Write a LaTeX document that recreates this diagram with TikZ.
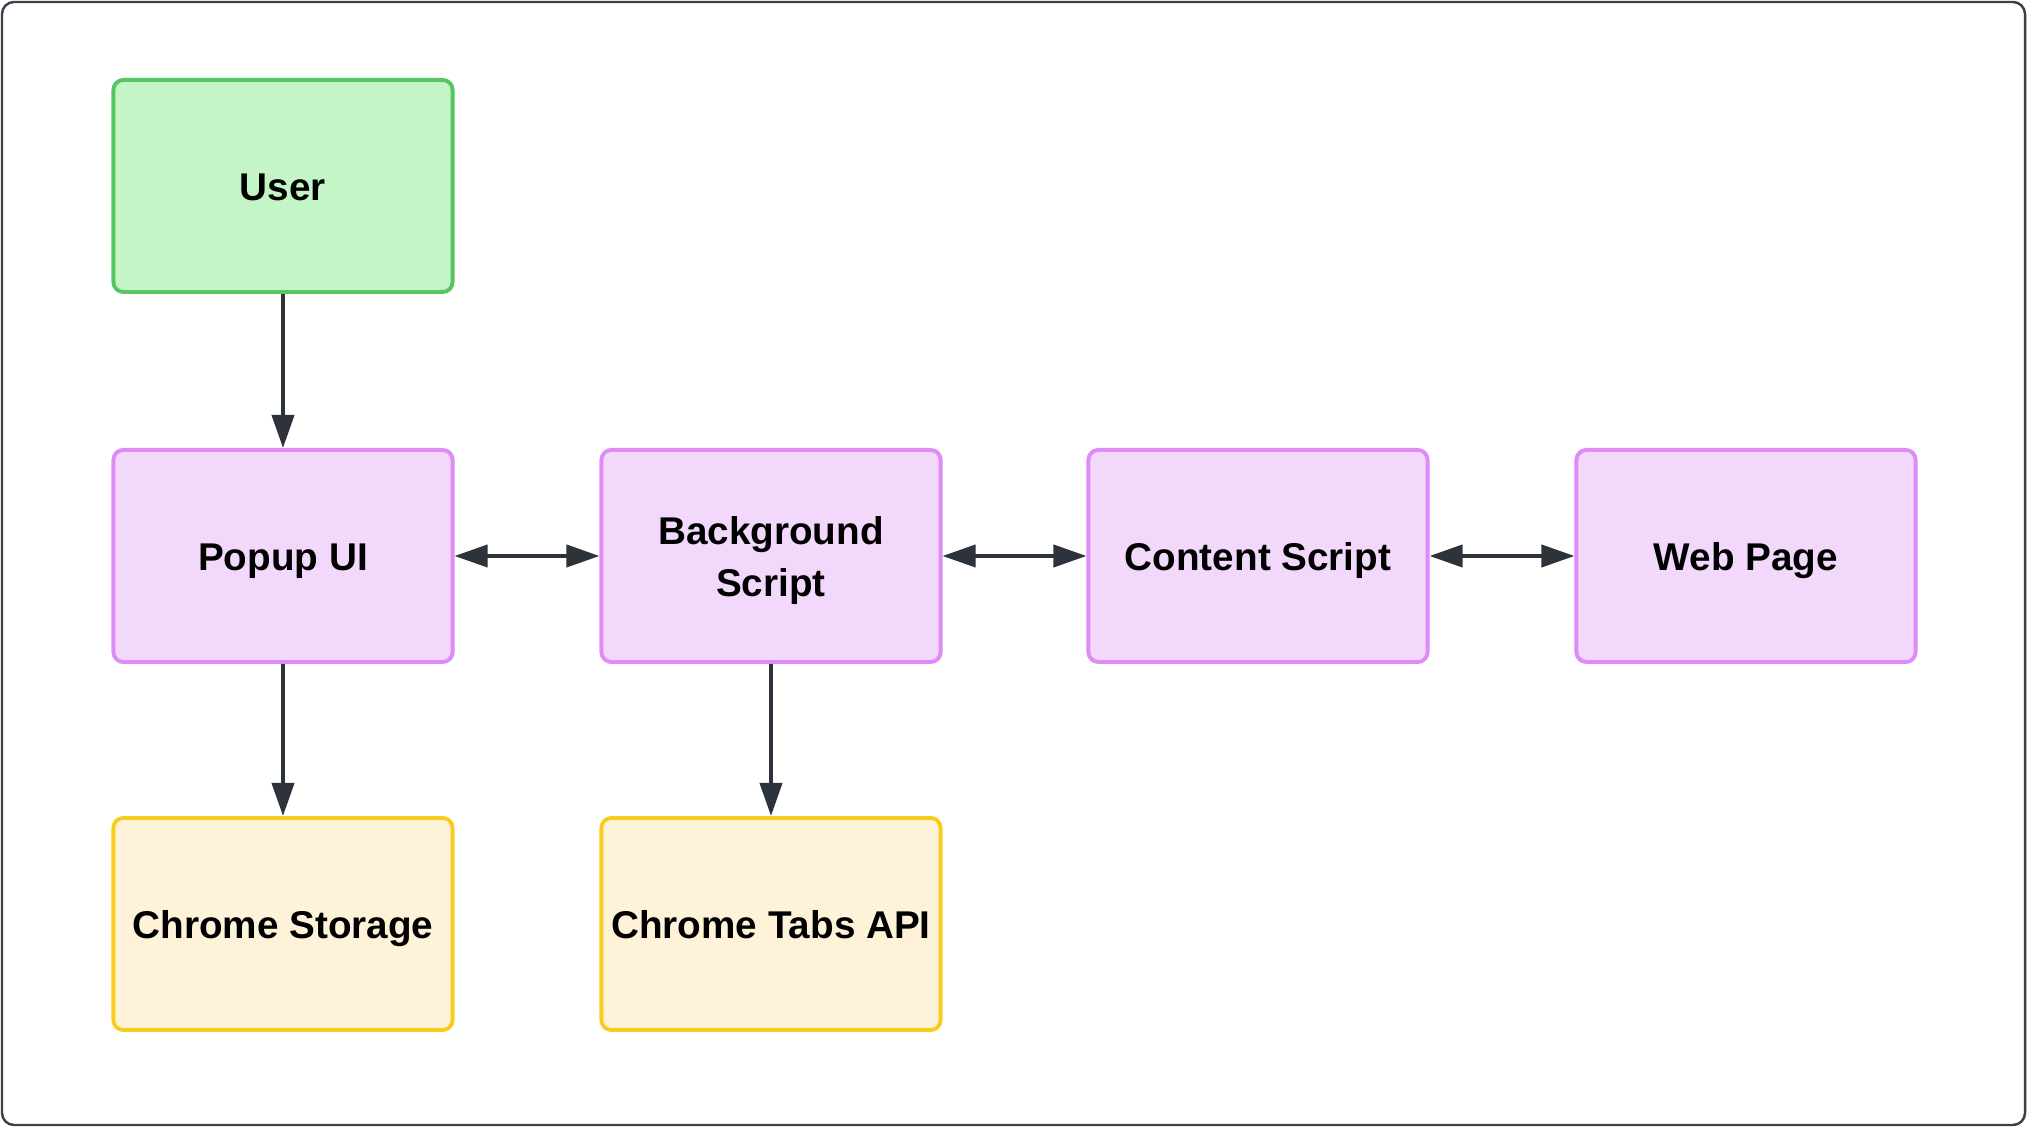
\documentclass[tikz,border=0pt]{standalone}
\usepackage{fontspec}
\setmainfont{Liberation Sans}
\usepackage{tikz}
\usetikzlibrary{arrows.meta}

\definecolor{userfill}{HTML}{C3F5C7}
\definecolor{userline}{HTML}{56C664}
\definecolor{partfill}{HTML}{F2D9FC}
\definecolor{partline}{HTML}{DE8AF7}
\definecolor{apifill}{HTML}{FEF2D9}
\definecolor{apiline}{HTML}{F8CC1C}
\definecolor{linkcol}{HTML}{2D333B}
\definecolor{framecol}{HTML}{3A4049}

\begin{document}
\begin{tikzpicture}[x=0.01cm,y=0.01cm,>={Triangle[length=3.3mm,width=2.2mm]},
  box/.style={draw,line width=1.1pt,rounded corners=1mm,inner sep=1pt,
    minimum width=3.39cm,minimum height=2.12cm,align=center,
    text height=8pt,text depth=0pt,
    font=\bfseries\fontsize{11}{14.8}\selectfont,text=black},
  userbox/.style={box,draw=userline,fill=userfill},
  partbox/.style={box,draw=partline,fill=partfill},
  apibox/.style={box,draw=apiline,fill=apifill},
  link/.style={draw=linkcol,line width=1.1pt}]
  \def\cA{283}
  \def\cB{771}
  \def\cC{1258}
  \def\cD{1746}
  \def\rA{941}
  \def\rB{571}
  \def\rC{203}

  % ================= frame =================
  \useasboundingbox (0,0) rectangle (2027,1127);
  \draw[framecol,line width=0.7pt,rounded corners=1.2mm] (2,2) rectangle (2025,1125);

  % ================= top row =================
  \node[userbox] (user) at (\cA,\rA) {User};

  % ================= middle row =================
  \node[partbox] (popup) at (\cA,\rB) {Popup UI};
  \node[partbox,text height=22.8pt] (background) at (\cB,\rB) {Background\\Script};
  \node[partbox] (content) at (\cC,\rB) {Content Script};
  \node[partbox] (webpage) at (\cD,\rB) {Web Page};

  % ================= bottom row =================
  \node[apibox] (storage) at (\cA,\rC) {Chrome Storage};
  \node[apibox] (tabs) at (\cB,\rC) {Chrome Tabs API};

  % ================= connectors =================
  \draw[link,->] (user) -- (popup);
  \draw[link,<->] (popup) -- (background);
  \draw[link,<->] (background) -- (content);
  \draw[link,<->] (content) -- (webpage);
  \draw[link,->] (popup) -- (storage);
  \draw[link,->] (background) -- (tabs);

\end{tikzpicture}
\end{document}
